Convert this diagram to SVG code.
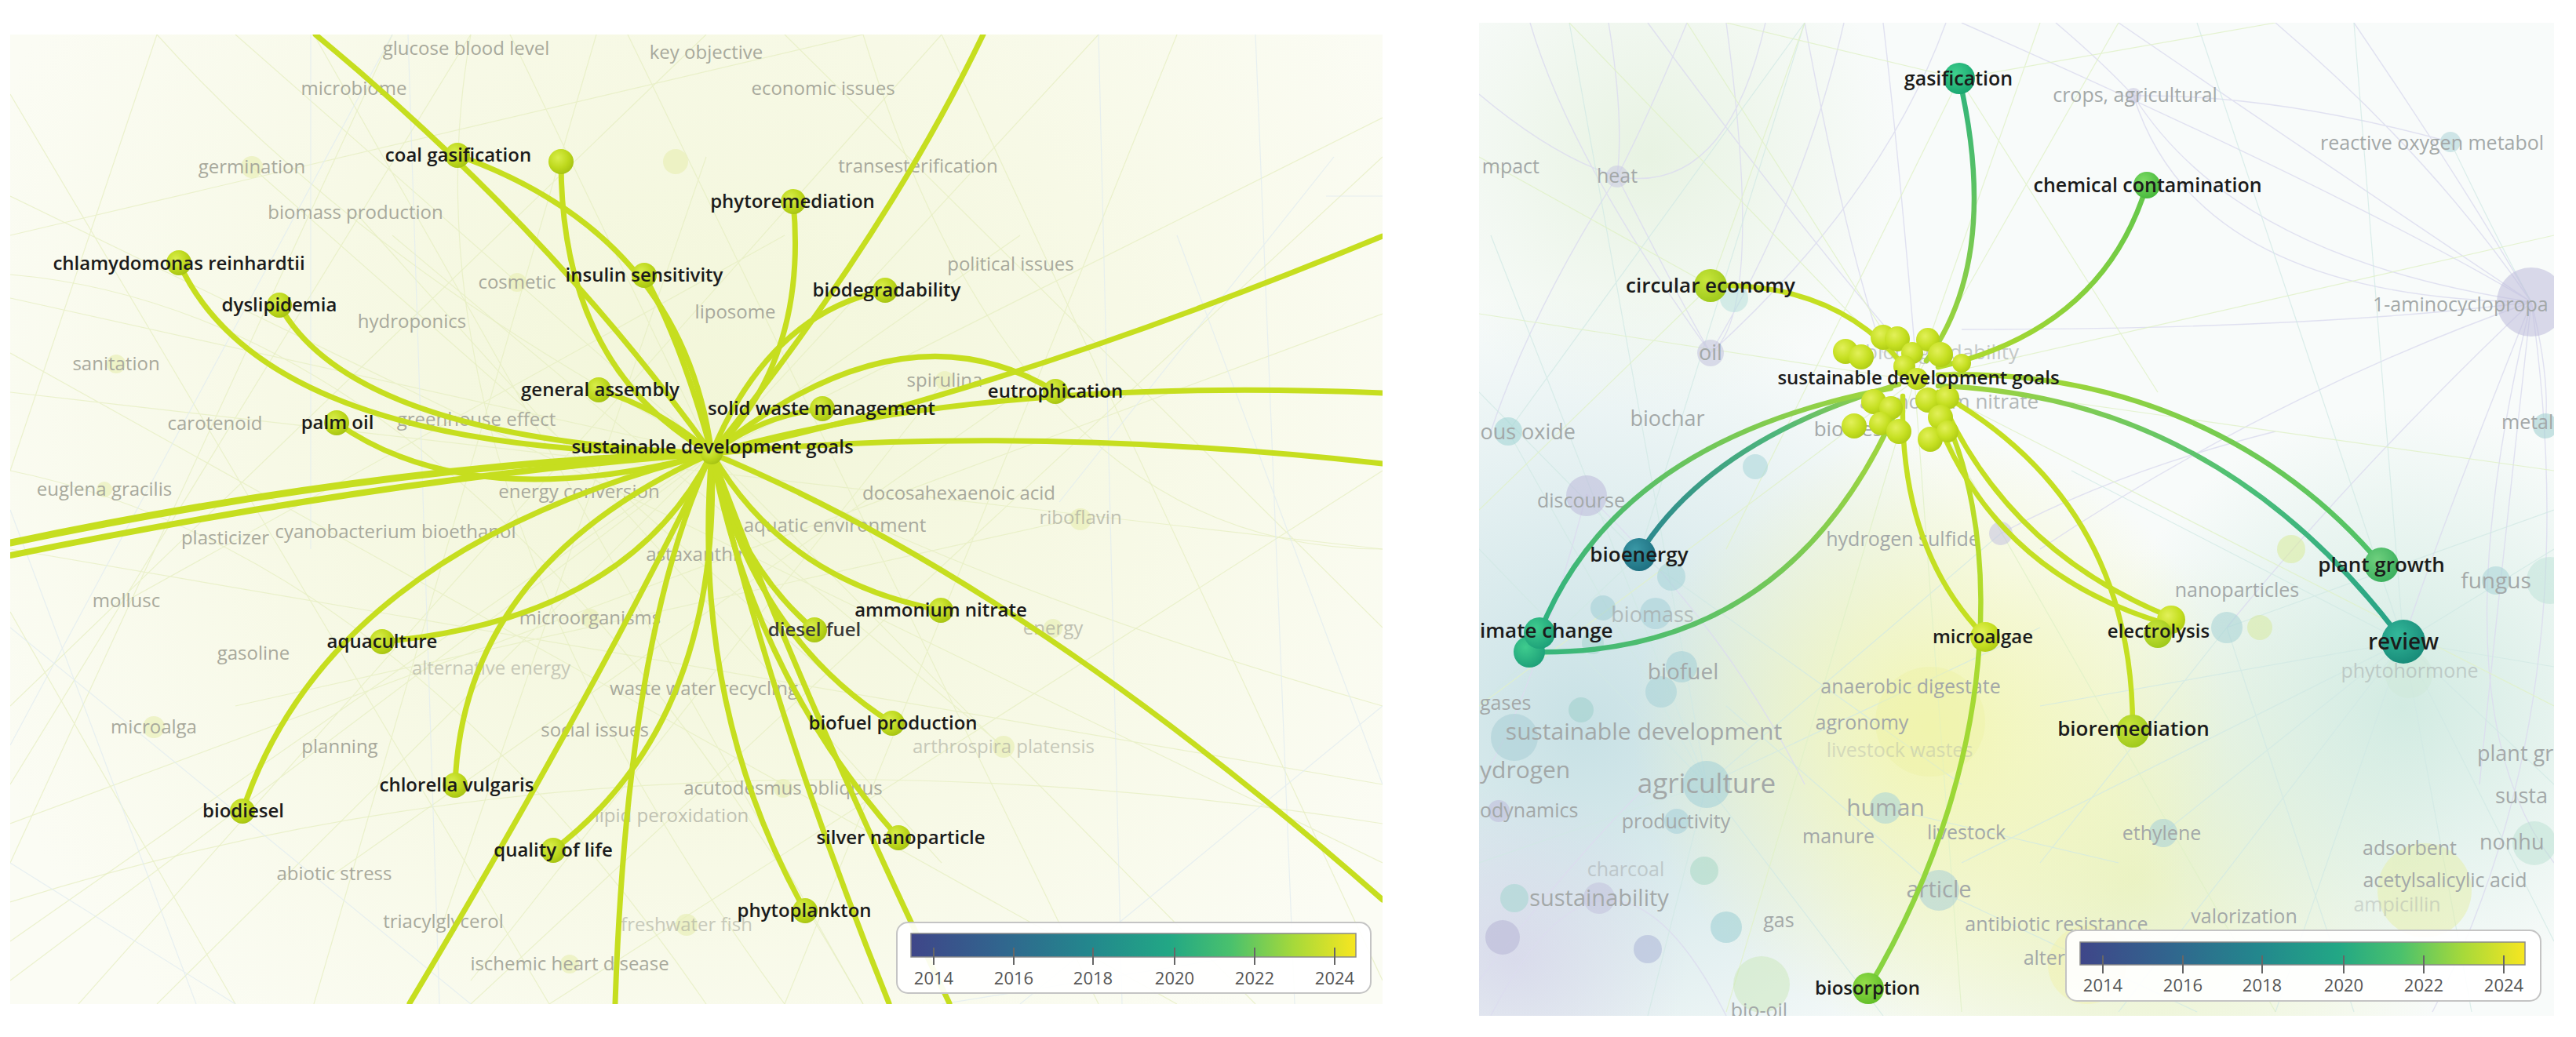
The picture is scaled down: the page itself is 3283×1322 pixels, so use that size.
<svg xmlns="http://www.w3.org/2000/svg" width="3283" height="1322" viewBox="0 0 3283 1322">
<defs>
<style>
.lbl{font-family:"Open Sans","DejaVu Sans",sans-serif;font-size:24px;font-weight:600;fill:#1b1b1b;text-anchor:middle}
.fnt{font-family:"Open Sans","DejaVu Sans",sans-serif;font-size:24px;fill:#a8a99c;text-anchor:middle}
.fntR{font-family:"Open Sans","DejaVu Sans",sans-serif;font-size:25px;fill:#a3a8a8;text-anchor:middle}
.edL{fill:none;stroke:#c6de1f;stroke-width:7;stroke-linecap:round}
.edY{fill:none;stroke:#c4df22;stroke-width:6.5;stroke-linecap:round}
.bgL{fill:none;stroke:#e6eec0;stroke-width:1.2;opacity:.75}
.bgB{fill:none;stroke:#e0ebf0;stroke-width:1.2;opacity:.75}
.bgV{fill:none;stroke:#dcdcee;stroke-width:1.4;opacity:.85}
.bgT{fill:none;stroke:#d0e8e4;stroke-width:1.2;opacity:.75}
.bgG{fill:none;stroke:#e0f1c8;stroke-width:1.2;opacity:.85}
.tick{stroke:#666;stroke-width:2}
.leg{font-family:"Open Sans","DejaVu Sans",sans-serif;font-size:22px;fill:#555;text-anchor:middle}
</style>
<clipPath id="clipL"><rect x="13" y="44" width="1749" height="1236"/></clipPath>
<clipPath id="clipR"><rect x="1885" y="29" width="1370" height="1266"/></clipPath>
<radialGradient id="hazeL" cx="900" cy="560" r="1000" gradientUnits="userSpaceOnUse">
<stop offset="0" stop-color="#f2f6d8"/><stop offset=".55" stop-color="#f7f9e6"/><stop offset="1" stop-color="#fbfcf4"/>
</radialGradient>
<radialGradient id="hTeal" cx="2020" cy="930" r="560" gradientUnits="userSpaceOnUse">
<stop offset="0" stop-color="#c8e1e5" stop-opacity="1"/><stop offset="1" stop-color="#c8e1e5" stop-opacity="0"/></radialGradient>
<radialGradient id="hYel" cx="2460" cy="930" r="380" gradientUnits="userSpaceOnUse">
<stop offset="0" stop-color="#f3f6b4" stop-opacity="1"/><stop offset="1" stop-color="#f3f6b4" stop-opacity="0"/></radialGradient>
<radialGradient id="hYG" cx="2720" cy="1120" r="420" gradientUnits="userSpaceOnUse">
<stop offset="0" stop-color="#e9f2c6" stop-opacity="1"/><stop offset="1" stop-color="#e9f2c6" stop-opacity="0"/></radialGradient>
<radialGradient id="hTG" cx="3060" cy="900" r="380" gradientUnits="userSpaceOnUse">
<stop offset="0" stop-color="#d2ebe2" stop-opacity="1"/><stop offset="1" stop-color="#d2ebe2" stop-opacity="0"/></radialGradient>
<radialGradient id="hLav" cx="1930" cy="1220" r="220" gradientUnits="userSpaceOnUse">
<stop offset="0" stop-color="#d7d6ea" stop-opacity=".8"/><stop offset="1" stop-color="#d7d6ea" stop-opacity="0"/></radialGradient>
<radialGradient id="hGrn" cx="2100" cy="200" r="320" gradientUnits="userSpaceOnUse">
<stop offset="0" stop-color="#e6f2e0" stop-opacity=".9"/><stop offset="1" stop-color="#e6f2e0" stop-opacity="0"/></radialGradient>
<radialGradient id="nY" cx=".38" cy=".35" r=".7"><stop offset="0" stop-color="#d9ee4c"/><stop offset=".6" stop-color="#bdd81c"/><stop offset="1" stop-color="#a4c112"/></radialGradient>
<radialGradient id="nY2" cx=".38" cy=".35" r=".7"><stop offset="0" stop-color="#e2f05a"/><stop offset=".6" stop-color="#c6e022"/><stop offset="1" stop-color="#aecb14"/></radialGradient>
<radialGradient id="nGas" cx=".38" cy=".35" r=".7"><stop offset="0" stop-color="#3fd08e"/><stop offset="1" stop-color="#17a46e"/></radialGradient>
<radialGradient id="nChem" cx=".38" cy=".35" r=".7"><stop offset="0" stop-color="#7fdc66"/><stop offset="1" stop-color="#45b73a"/></radialGradient>
<radialGradient id="nCirc" cx=".38" cy=".35" r=".7"><stop offset="0" stop-color="#c8e63c"/><stop offset="1" stop-color="#9ec81a"/></radialGradient>
<radialGradient id="nBio" cx=".38" cy=".35" r=".7"><stop offset="0" stop-color="#3a98a6"/><stop offset="1" stop-color="#1d6f80"/></radialGradient>
<radialGradient id="nCli" cx=".38" cy=".35" r=".7"><stop offset="0" stop-color="#3fcc8e"/><stop offset="1" stop-color="#1c9f78"/></radialGradient>
<radialGradient id="nPG" cx=".38" cy=".35" r=".7"><stop offset="0" stop-color="#6fd07e"/><stop offset="1" stop-color="#3aae5c"/></radialGradient>
<radialGradient id="nRev" cx=".38" cy=".35" r=".7"><stop offset="0" stop-color="#33b89a"/><stop offset="1" stop-color="#178a78"/></radialGradient>
<radialGradient id="nSorp" cx=".38" cy=".35" r=".7"><stop offset="0" stop-color="#94dd4a"/><stop offset="1" stop-color="#5fbd26"/></radialGradient>
<linearGradient id="gGas" x1="2497" y1="100" x2="2455" y2="460" gradientUnits="userSpaceOnUse"><stop offset="0" stop-color="#2db47d"/><stop offset="1" stop-color="#a9d835"/></linearGradient>
<linearGradient id="gChem" x1="2736" y1="236" x2="2470" y2="468" gradientUnits="userSpaceOnUse"><stop offset="0" stop-color="#62c74c"/><stop offset="1" stop-color="#b6dc2b"/></linearGradient>
<linearGradient id="gBio" x1="2089" y1="707" x2="2420" y2="490" gradientUnits="userSpaceOnUse"><stop offset="0" stop-color="#2a8690"/><stop offset=".6" stop-color="#4fb77a"/><stop offset="1" stop-color="#a8d83a"/></linearGradient>
<linearGradient id="gCli" x1="1962" y1="807" x2="2410" y2="495" gradientUnits="userSpaceOnUse"><stop offset="0" stop-color="#2db181"/><stop offset="1" stop-color="#a4d73c"/></linearGradient>
<linearGradient id="gCli2" x1="1949" y1="831" x2="2420" y2="515" gradientUnits="userSpaceOnUse"><stop offset="0" stop-color="#34b57e"/><stop offset="1" stop-color="#a8d83a"/></linearGradient>
<linearGradient id="gPG" x1="2470" y1="478" x2="3035" y2="720" gradientUnits="userSpaceOnUse"><stop offset="0" stop-color="#b5dc2b"/><stop offset="1" stop-color="#4cc16a"/></linearGradient>
<linearGradient id="gRev" x1="2470" y1="492" x2="3063" y2="818" gradientUnits="userSpaceOnUse"><stop offset="0" stop-color="#a6d63a"/><stop offset=".6" stop-color="#4cbf78"/><stop offset="1" stop-color="#23a189"/></linearGradient>
<linearGradient id="gSorp" x1="2470" y1="515" x2="2381" y2="1260" gradientUnits="userSpaceOnUse"><stop offset="0" stop-color="#c4df22"/><stop offset="1" stop-color="#86d343"/></linearGradient>
<linearGradient id="viridis" x1="0" y1="0" x2="1" y2="0">
<stop offset="0" stop-color="#3f4689"/><stop offset=".2" stop-color="#31658e"/><stop offset=".4" stop-color="#23878d"/><stop offset=".58" stop-color="#22a785"/><stop offset=".72" stop-color="#4ac16d"/><stop offset=".86" stop-color="#a6d93a"/><stop offset="1" stop-color="#f7e620"/>
</linearGradient>
</defs>

<rect width="3283" height="1322" fill="#ffffff"/>

<!-- ================= LEFT PANEL ================= -->
<g id="leftPanel" clip-path="url(#clipL)">
<rect x="13" y="44" width="1749" height="1236" fill="url(#hazeL)"/>
<g id="leftBackground">
<path class="bgL" d="M13,120 L700,1280 M13,300 L1100,44 M13,900 L900,44 M200,44 L13,600 M13,1000 L600,44 M300,1280 L13,780 M13,1200 L1300,300 M100,1280 L1200,44 M400,1280 L760,44 M13,500 L1762,700 M13,450 L1500,1280 M600,1280 L1762,200 M13,700 L1762,1000 M800,44 L1400,1280 M1000,44 L1762,800 M1500,44 L1000,1280 M1200,44 L1762,1250 M13,1050 L1762,400 M400,44 L1100,1280 M13,250 L1762,1100 M1762,600 L700,1280 M500,44 L13,1100 M907,578 L300,44 M907,578 L13,380 M907,578 L200,1280 M907,578 L1600,1280 M907,578 L1762,150 M907,578 L650,44 M907,578 L13,1250 M907,578 L1400,44 M321,213 L1100,900 M453,271 L1200,1100 M161,766 L1000,300 M426,1114 L1300,500 M565,1175 L900,200 M1204,485 L600,1250 M1279,952 L500,300 M1377,660 L300,900"/>
<path class="bgL" d="M13,600 Q500,700 900,1280 M13,350 Q600,400 1100,1280 M200,44 Q700,600 1762,900 M13,1150 Q800,900 1762,1050 M600,44 Q500,600 1000,1280 M1100,44 Q1300,700 1762,700"/>
<path class="bgB" d="M396,44 L396,700 M520,44 L560,1280 M13,800 L600,1280 M13,950 L500,44 M1400,44 L1430,1280 M1700,200 L1350,640 M1600,44 L1650,1280 M1690,250 L1762,250 M1500,300 L1762,1000 M1300,1280 L1762,900 M13,1100 L300,1280 M13,650 L250,1280 M1200,1280 L1700,1200"/>
<g fill="#e9f0b8" opacity=".7">
<circle cx="321" cy="213" r="14"/><circle cx="861" cy="206" r="16"/><circle cx="1377" cy="662" r="14"/><circle cx="1342" cy="801" r="12"/><circle cx="148" cy="464" r="12"/><circle cx="196" cy="927" r="14"/><circle cx="1279" cy="952" r="14"/><circle cx="752" cy="788" r="12"/><circle cx="133" cy="624" r="10"/><circle cx="726" cy="1229" r="12"/><circle cx="875" cy="1179" r="14"/><circle cx="998" cy="1005" r="12"/><circle cx="1204" cy="485" r="12"/><circle cx="659" cy="360" r="12"/>
</g>
</g>
<g id="leftFaintLabels">
<text class="fnt" x="594" y="70">glucose blood level</text>
<text class="fnt" x="900" y="75">key objective</text>
<text class="fnt" x="451" y="121">microbiome</text>
<text class="fnt" x="1049" y="121">economic issues</text>
<text class="fnt" x="321" y="221">germination</text>
<text class="fnt" x="453" y="279">biomass production</text>
<text class="fnt" x="1170" y="220">transesterification</text>
<text class="fnt" x="659" y="368">cosmetic</text>
<text class="fnt" x="525" y="418">hydroponics</text>
<text class="fnt" x="937" y="406">liposome</text>
<text class="fnt" x="1288" y="345">political issues</text>
<text class="fnt" x="148" y="472">sanitation</text>
<text class="fnt" x="274" y="548">carotenoid</text>
<text class="fnt" x="607" y="543">greenhouse effect</text>
<text class="fnt" x="1204" y="493">spirulina</text>
<text class="fnt" x="133" y="632">euglena gracilis</text>
<text class="fnt" x="738" y="635">energy conversion</text>
<text class="fnt" x="1222" y="637">docosahexaenoic acid</text>
<text class="fnt" x="1377" y="668" opacity=".7">riboflavin</text>
<text class="fnt" x="1064" y="678">aquatic environment</text>
<text class="fnt" x="287" y="694">plasticizer</text>
<text class="fnt" x="504" y="686">cyanobacterium bioethanol</text>
<text class="fnt" x="889" y="715">astaxanthin</text>
<text class="fnt" x="161" y="774">mollusc</text>
<text class="fnt" x="752" y="796">microorganisms</text>
<text class="fnt" x="323" y="841">gasoline</text>
<text class="fnt" x="626" y="860" opacity=".6">alternative energy</text>
<text class="fnt" x="897" y="886">waste water recycling</text>
<text class="fnt" x="196" y="935">microalga</text>
<text class="fnt" x="433" y="960">planning</text>
<text class="fnt" x="758" y="939">social issues</text>
<text class="fnt" x="998" y="1013">acutodesmus obliquus</text>
<text class="fnt" x="856" y="1048" opacity=".7">lipid peroxidation</text>
<text class="fnt" x="426" y="1122">abiotic stress</text>
<text class="fnt" x="565" y="1183">triacylglycerol</text>
<text class="fnt" x="875" y="1187" opacity=".6">freshwater fish</text>
<text class="fnt" x="726" y="1237">ischemic heart disease</text>
<text class="fnt" x="1342" y="809" opacity=".7">energy</text>
<text class="fnt" x="1279" y="960" opacity=".6">arthrospira platensis</text>
</g>
<g id="leftConnectors">
<path class="edL" d="M402,44 Q700,290 907,578"/>
<path class="edL" d="M583,198 Q870,300 907,578"/>
<path class="edL" d="M715,206 Q715,470 907,578"/>
<path class="edL" d="M821,351 Q870,440 907,578"/>
<path class="edL" d="M228,335 Q340,580 907,578"/>
<path class="edL" d="M356,389 Q450,560 907,578"/>
<path class="edL" d="M429,539 Q600,660 907,578"/>
<path class="edL" d="M763,497 Q840,520 907,578"/>
<path class="edL" style="stroke-width:9" d="M907,578 Q500,590 13,692"/>
<path class="edL" style="stroke-width:8" d="M907,578 Q520,605 13,708"/>
<path class="edL" d="M487,818 Q800,790 907,578"/>
<path class="edL" d="M309,1034 Q420,700 907,578"/>
<path class="edL" d="M580,1001 Q590,720 907,578"/>
<path class="edL" d="M705,1084 Q920,920 907,578"/>
<path class="edL" d="M907,578 Q760,880 522,1279"/>
<path class="edL" d="M907,578 Q800,800 784,1279"/>
<path class="edL" d="M1026,1161 Q880,900 907,578"/>
<path class="edL" d="M1038,803 Q940,720 907,578"/>
<path class="edL" d="M1199,778 Q1000,740 907,578"/>
<path class="edL" d="M1137,922 Q960,810 907,578"/>
<path class="edL" d="M1145,1068 Q960,860 907,578"/>
<path class="edL" d="M907,578 Q980,900 1133,1279"/>
<path class="edL" d="M907,578 Q1010,860 1210,1279"/>
<path class="edL" d="M907,578 Q1300,740 1762,1147"/>
<path class="edL" d="M907,578 Q1300,540 1762,591"/>
<path class="edL" d="M907,578 Q1250,480 1762,501"/>
<path class="edL" d="M907,578 Q1150,380 1345,499"/>
<path class="edL" d="M1048,521 Q970,530 907,578"/>
<path class="edL" d="M907,578 Q1280,500 1762,301"/>
<path class="edL" d="M1128,370 Q980,400 907,578"/>
<path class="edL" d="M1011,257 Q1030,460 907,578"/>
<path class="edL" d="M907,578 Q1130,300 1253,44"/>
</g>
<g id="leftNodes">
<g id="n-coal-gasification"><circle cx="583" cy="198" r="16" fill="url(#nY)"/><text class="lbl" x="584" y="206">coal gasification</text></g>
<g id="n-plasma-node"><circle cx="715" cy="206" r="16" fill="url(#nY)"/></g>
<g id="n-chlamydomonas"><circle cx="228" cy="335" r="16" fill="url(#nY)"/><text class="lbl" x="228" y="344">chlamydomonas reinhardtii</text></g>
<g id="n-dyslipidemia"><circle cx="356" cy="389" r="16" fill="url(#nY)"/><text class="lbl" x="356" y="397">dyslipidemia</text></g>
<g id="n-insulin"><circle cx="821" cy="351" r="16" fill="url(#nY)"/><text class="lbl" x="821" y="359">insulin sensitivity</text></g>
<g id="n-general-assembly"><circle cx="763" cy="497" r="16" fill="url(#nY)"/><text class="lbl" x="765" y="505">general assembly</text></g>
<g id="n-palm-oil"><circle cx="429" cy="539" r="16" fill="url(#nY)"/><text class="lbl" x="430" y="547">palm oil</text></g>
<g id="n-phytoremediation"><circle cx="1011" cy="257" r="16" fill="url(#nY)"/><text class="lbl" x="1010" y="265">phytoremediation</text></g>
<g id="n-biodegradability"><circle cx="1128" cy="370" r="16" fill="url(#nY)"/><text class="lbl" x="1130" y="378">biodegradability</text></g>
<g id="n-solid-waste"><circle cx="1048" cy="521" r="16" fill="url(#nY)"/><text class="lbl" x="1047" y="529">solid waste management</text></g>
<g id="n-eutrophication"><circle cx="1345" cy="499" r="16" fill="url(#nY)"/><text class="lbl" x="1345" y="507">eutrophication</text></g>
<g id="n-sdg-left"><circle cx="907" cy="578" r="14" fill="url(#nY)"/><text class="lbl" x="908" y="578">sustainable development goals</text></g>
<g id="n-aquaculture"><circle cx="487" cy="818" r="16" fill="url(#nY)"/><text class="lbl" x="487" y="826">aquaculture</text></g>
<g id="n-biodiesel"><circle cx="309" cy="1034" r="16" fill="url(#nY)"/><text class="lbl" x="310" y="1042">biodiesel</text></g>
<g id="n-chlorella"><circle cx="580" cy="1001" r="16" fill="url(#nY)"/><text class="lbl" x="582" y="1009">chlorella vulgaris</text></g>
<g id="n-quality"><circle cx="705" cy="1084" r="16" fill="url(#nY)"/><text class="lbl" x="705" y="1092">quality of life</text></g>
<g id="n-ammonium"><circle cx="1199" cy="778" r="16" fill="url(#nY)"/><text class="lbl" x="1199" y="786">ammonium nitrate</text></g>
<g id="n-diesel-fuel"><circle cx="1038" cy="803" r="16" fill="url(#nY)"/><text class="lbl" x="1038" y="811" style="fill:#3a3a3a">diesel fuel</text></g>
<g id="n-biofuel-production"><circle cx="1137" cy="922" r="16" fill="url(#nY)"/><text class="lbl" x="1138" y="930">biofuel production</text></g>
<g id="n-silver"><circle cx="1145" cy="1068" r="16" fill="url(#nY)"/><text class="lbl" x="1148" y="1076">silver nanoparticle</text></g>
<g id="n-phytoplankton"><circle cx="1026" cy="1161" r="16" fill="url(#nY)"/><text class="lbl" x="1025" y="1169">phytoplankton</text></g>
</g>
<g id="leftLegend">
<rect x="1143" y="1176" width="604" height="90" rx="14" fill="#ffffff" fill-opacity=".92" stroke="#c4c4c4" stroke-width="2"/>
<rect x="1161" y="1190" width="567" height="30" fill="url(#viridis)" stroke="#8a8a8a" stroke-width="1.5"/>
<path class="tick" d="M1190,1208 V1230 M1292,1208 V1230 M1393,1208 V1230 M1497,1208 V1230 M1599,1208 V1230 M1701,1208 V1230"/>
<text class="leg" x="1190" y="1255">2014</text><text class="leg" x="1292" y="1255">2016</text><text class="leg" x="1393" y="1255">2018</text><text class="leg" x="1497" y="1255">2020</text><text class="leg" x="1599" y="1255">2022</text><text class="leg" x="1701" y="1255">2024</text>
</g>
</g>

<!-- ================= RIGHT PANEL ================= -->
<g id="rightPanel" clip-path="url(#clipR)">
<rect x="1885" y="29" width="1370" height="1266" fill="#f8fbfa"/>
<rect x="1885" y="29" width="1370" height="1266" fill="url(#hTeal)"/>
<rect x="1885" y="29" width="1370" height="1266" fill="url(#hYG)"/>
<rect x="1885" y="29" width="1370" height="1266" fill="url(#hTG)"/>
<rect x="1885" y="29" width="1370" height="1266" fill="url(#hYel)"/>
<rect x="1885" y="29" width="1370" height="1266" fill="url(#hLav)"/>
<rect x="1885" y="29" width="1370" height="1266" fill="url(#hGrn)"/>
<g id="rightBackground">
<path class="bgV" d="M2050,29 Q2070,150 2061,225 M2150,29 Q2100,150 2061,225 M1885,120 Q1980,200 2061,225 M2061,225 Q2150,400 2180,450 M2061,225 Q1950,400 1900,550 M2200,29 Q2250,400 2180,450 M2300,29 Q2350,300 2400,450 M2350,29 Q2300,250 2180,450 M2400,29 Q2420,200 2440,440 M2620,29 Q2680,80 2719,122 M2719,122 Q2850,330 3226,385 M2700,29 Q2950,200 3226,385 M2900,29 Q3100,200 3226,385 M3000,29 Q3150,250 3226,385 M2719,122 Q2900,120 3123,181 M3226,385 Q3000,600 2838,800 M3226,385 Q3100,700 3063,818 M3226,385 Q2900,500 2600,700 M3226,385 Q3250,480 3244,543 M3226,385 Q2950,420 2500,420 M3226,385 Q3180,800 3160,1000 M1885,1250 Q2000,1100 2100,1000 M2550,680 Q2700,600 2900,550 M2250,29 Q2200,250 2061,225 M1950,29 Q2000,200 2180,450 M2100,29 Q2300,300 2440,460 M2480,29 Q2400,250 2180,450 M3226,385 Q2800,380 2719,122 M3226,385 Q3000,250 2500,29 M3226,385 Q3100,900 3255,1100 M3226,385 Q3300,900 3100,1290 M2022,630 Q1950,900 1885,1000 M2022,630 Q2200,800 2300,1000 M1900,1295 Q2050,1000 2200,1295"/>
<path class="bgT" d="M3123,181 Q3180,300 3226,385 M3063,818 L2640,600 M3063,818 L2900,1290 M3063,818 L3255,700 M3063,818 L3255,1000 M3063,818 L2600,900 M3063,818 L3000,29 M3063,818 L2800,29 M3063,818 L3255,1200 M3063,818 L2500,1100 M3063,818 L3150,1290 M3063,818 L2700,1290 M3063,818 L3255,850 M2175,1000 L1885,700 M2175,1000 L1885,1100 M2175,1000 L2100,1295 M2175,1000 L2400,1295 M2175,1000 L2600,800 M2175,1000 L2000,29 M2175,1000 L1900,300 M2175,1000 L2550,680 M2089,707 L1885,500 M2089,707 L2300,29 M2089,707 L2500,1000 M2089,707 L1885,900 M2471,1135 L2800,1290 M2471,1135 L2200,900 M2403,1030 L2700,1100 M2838,800 L3255,650 M2838,800 L2600,1100 M2838,800 L3000,1290 M2757,1062 L3063,818 M1922,550 L2175,1000 M1922,550 L2300,29"/>
<path class="bgG" d="M2440,485 L1885,400 M2440,485 L2000,29 M2440,485 L2700,29 M2440,485 L3255,600 M2440,485 L2900,1290 M2440,485 L2200,1290 M2440,485 L1885,900 M2440,485 L3255,300 M2440,485 L2600,29 M2440,485 L2150,29 M2440,485 L3255,900 M2440,485 L2500,1290 M2180,364 L1885,200 M2180,364 L2300,29 M2180,364 L1885,650 M2497,100 L2200,29 M2497,100 L2900,29 M2497,100 L2750,500 M2497,100 L2200,700"/>
</g>
<g id="rightFaintNodes">
<g opacity=".55">
<circle cx="2061" cy="225" r="14" fill="#c9c8e2"/>
<circle cx="2180" cy="450" r="17" fill="#c4c3df"/>
<circle cx="2210" cy="380" r="18" fill="#b9e1de"/>
<circle cx="1922" cy="550" r="18" fill="#9fd4d4"/>
<circle cx="2022" cy="632" r="26" fill="#bdbadb"/>
<circle cx="2237" cy="595" r="16" fill="#a9d6da"/>
<circle cx="2719" cy="122" r="10" fill="#c8c7e0"/>
<circle cx="3123" cy="181" r="13" fill="#acd3d7"/>
<circle cx="3226" cy="385" r="44" fill="#bdbbdb"/>
<circle cx="3244" cy="543" r="16" fill="#9fcfcf"/>
<circle cx="2550" cy="680" r="15" fill="#c4c3e0"/>
<circle cx="2838" cy="800" r="20" fill="#a7d3d6"/>
<circle cx="2880" cy="800" r="16" fill="#d8eaa2"/>
<circle cx="2130" cy="735" r="18" fill="#a5d3d8"/>
<circle cx="2110" cy="782" r="20" fill="#a5d0d8"/>
<circle cx="2143" cy="850" r="20" fill="#a2cfd7"/>
<circle cx="2117" cy="882" r="20" fill="#a7d2d8"/>
<circle cx="2043" cy="775" r="16" fill="#a2cfd6"/>
<circle cx="2030" cy="820" r="14" fill="#a8d7d0"/>
<circle cx="2175" cy="1000" r="30" fill="#a3d0d8"/>
<circle cx="2137" cy="1047" r="16" fill="#a6d0da"/>
<circle cx="2403" cy="1030" r="20" fill="#a8d3d8"/>
<circle cx="2471" cy="1135" r="26" fill="#abd0d8"/>
<circle cx="3181" cy="740" r="18" fill="#a9d4d8"/>
<circle cx="2757" cy="1062" r="18" fill="#a6d0d8"/>
<circle cx="2200" cy="1182" r="20" fill="#9ccfd4"/>
<circle cx="2100" cy="1210" r="18" fill="#adb7d8"/>
<circle cx="1930" cy="940" r="30" fill="#a9cfd6"/>
<circle cx="1930" cy="1145" r="18" fill="#a4d6d0"/>
<circle cx="2038" cy="1145" r="20" fill="#c3c2dd"/>
<circle cx="1915" cy="1195" r="22" fill="#b7b6d6"/>
<circle cx="1910" cy="1034" r="14" fill="#c0bcdc"/>
<circle cx="2015" cy="905" r="16" fill="#9fd0cc"/>
<circle cx="2172" cy="1110" r="18" fill="#a9d9c6"/>
<circle cx="2920" cy="700" r="18" fill="#d8eb9b"/>
</g>
<g opacity=".45">
<circle cx="2460" cy="920" r="70" fill="#eef2a6"/>
<circle cx="3090" cy="1135" r="60" fill="#e6efa0"/>
<circle cx="2245" cy="1255" r="36" fill="#c7e7b4"/>
<circle cx="2660" cy="1230" r="50" fill="#f2f1a8"/>
<circle cx="3070" cy="860" r="30" fill="#cfe9d8"/>
<circle cx="3250" cy="740" r="30" fill="#b8e0d4"/>
<circle cx="3230" cy="1075" r="28" fill="#b7dfd0"/>
</g>
</g>
<g id="rightFaintLabels">
<text class="fntR" x="1962" y="221" style="text-anchor:end">mpact</text>
<text class="fntR" x="2061" y="233">heat</text>
<text class="fntR" x="2721" y="130">crops, agricultural</text>
<text class="fntR" x="2957" y="191" style="text-anchor:start">reactive oxygen metabol</text>
<text class="fntR" x="3024" y="397" style="text-anchor:start">1-aminocyclopropa</text>
<text class="fntR" x="3188" y="547" style="text-anchor:start">metal</text>
<text class="fntR" x="2180" y="459" style="font-size:27px">oil</text>
<text class="fntR" x="2008" y="560" style="text-anchor:end;font-size:27px">ous oxide</text>
<text class="fntR" x="2125" y="543" style="font-size:27px">biochar</text>
<text class="fntR" x="2015" y="647">discourse</text>
<text class="fntR" x="2475" y="458" style="font-size:26px;opacity:.6">biodegradability</text>
<text class="fntR" x="2484" y="521" style="font-size:26px;opacity:.8">ammonium nitrate</text>
<text class="fntR" x="2366" y="556" style="font-size:26px">biodiesel</text>
<text class="fntR" x="2425" y="696">hydrogen sulfide</text>
<text class="fntR" x="2106" y="793" style="font-size:27px;opacity:.7">biomass</text>
<text class="fntR" x="2145" y="866" style="font-size:28px">biofuel</text>
<text class="fntR" x="1886" y="905" style="text-anchor:start">gases</text>
<text class="fntR" x="2095" y="943" style="font-size:30px">sustainable development</text>
<text class="fntR" x="2435" y="884">anaerobic digestate</text>
<text class="fntR" x="2373" y="930">agronomy</text>
<text class="fntR" x="2421" y="965" style="opacity:.35">livestock wastes</text>
<text class="fntR" x="1886" y="992" style="text-anchor:start;font-size:30px">ydrogen</text>
<text class="fntR" x="2175" y="1011" style="font-size:35px">agriculture</text>
<text class="fntR" x="1886" y="1042" style="text-anchor:start">odynamics</text>
<text class="fntR" x="2136" y="1056">productivity</text>
<text class="fntR" x="2403" y="1040" style="font-size:30px">human</text>
<text class="fntR" x="2343" y="1075">manure</text>
<text class="fntR" x="2506" y="1070">livestock</text>
<text class="fntR" x="2072" y="1117" style="opacity:.5">charcoal</text>
<text class="fntR" x="2038" y="1155" style="font-size:29px">sustainability</text>
<text class="fntR" x="2471" y="1144" style="font-size:29px">article</text>
<text class="fntR" x="2267" y="1182">gas</text>
<text class="fntR" x="2621" y="1187">antibiotic resistance</text>
<text class="fntR" x="2632" y="1230" style="text-anchor:end">alter</text>
<text class="fntR" x="2242" y="1297">bio-oil</text>
<text class="fntR" x="2851" y="761">nanoparticles</text>
<text class="fntR" x="3181" y="750" style="font-size:28px">fungus</text>
<text class="fntR" x="3071" y="864" style="opacity:.5">phytohormone</text>
<text class="fntR" x="3157" y="970" style="text-anchor:start;font-size:27px">plant gr</text>
<text class="fntR" x="3180" y="1024" style="text-anchor:start;font-size:27px">susta</text>
<text class="fntR" x="3160" y="1083" style="text-anchor:start;font-size:27px">nonhu</text>
<text class="fntR" x="2755" y="1071">ethylene</text>
<text class="fntR" x="3071" y="1090">adsorbent</text>
<text class="fntR" x="3116" y="1131">acetylsalicylic acid</text>
<text class="fntR" x="3055" y="1162" style="opacity:.4">ampicillin</text>
<text class="fntR" x="2860" y="1177">valorization</text>
</g>
<g id="rightConnectors">
<path fill="none" stroke="url(#gGas)" stroke-width="6.5" stroke-linecap="round" d="M2497,100 Q2550,330 2455,460"/>
<path fill="none" stroke="url(#gChem)" stroke-width="6.5" stroke-linecap="round" d="M2736,236 Q2680,420 2470,468"/>
<path class="edY" d="M2180,364 Q2340,360 2425,465"/>
<path fill="none" stroke="url(#gBio)" stroke-width="6.5" stroke-linecap="round" d="M2089,707 Q2180,560 2420,490"/>
<path fill="none" stroke="url(#gCli)" stroke-width="6.5" stroke-linecap="round" d="M1962,807 Q2060,560 2410,495"/>
<path fill="none" stroke="url(#gCli2)" stroke-width="6.5" stroke-linecap="round" d="M1949,831 Q2280,840 2420,515"/>
<path class="edY" d="M2425,505 Q2420,700 2530,812"/>
<path fill="none" stroke="url(#gSorp)" stroke-width="6.5" stroke-linecap="round" d="M2470,515 C2545,650 2565,950 2381,1260"/>
<path class="edY" d="M2465,525 Q2540,730 2760,795"/>
<path class="edY" d="M2478,518 Q2565,705 2765,786"/>
<path class="edY" d="M2470,500 Q2720,640 2718,932"/>
<path fill="none" stroke="url(#gPG)" stroke-width="6.5" stroke-linecap="round" d="M2470,478 C2700,470 2900,560 3035,720"/>
<path fill="none" stroke="url(#gRev)" stroke-width="6.5" stroke-linecap="round" d="M2470,492 C2700,500 2900,600 3063,818"/>
</g>
<g id="rightNodes">
<g id="r-gasification"><circle cx="2497" cy="100" r="20" fill="url(#nGas)"/><text class="lbl" x="2496" y="109" style="font-size:25px">gasification</text></g>
<g id="r-chemical-contamination"><circle cx="2736" cy="236" r="17" fill="url(#nChem)"/><text class="lbl" x="2737" y="245" style="font-size:25px">chemical contamination</text></g>
<g id="r-circular-economy"><circle cx="2180" cy="364" r="21" fill="url(#nCirc)"/><text class="lbl" x="2180" y="373" style="font-size:26px">circular economy</text></g>
<g id="r-sdg">
<g fill="url(#nY2)">
<circle cx="2352" cy="448" r="16"/><circle cx="2372" cy="455" r="16"/><circle cx="2400" cy="430" r="16"/><circle cx="2418" cy="432" r="16"/><circle cx="2457" cy="433" r="15"/><circle cx="2473" cy="452" r="16"/><circle cx="2437" cy="450" r="14"/><circle cx="2427" cy="467" r="14"/><circle cx="2443" cy="483" r="14"/><circle cx="2500" cy="463" r="12"/><circle cx="2388" cy="512" r="16"/><circle cx="2410" cy="520" r="15"/><circle cx="2457" cy="510" r="16"/><circle cx="2482" cy="507" r="15"/><circle cx="2473" cy="532" r="16"/><circle cx="2363" cy="543" r="16"/><circle cx="2397" cy="540" r="15"/><circle cx="2420" cy="550" r="16"/><circle cx="2460" cy="560" r="16"/><circle cx="2482" cy="550" r="14"/>
</g>
<text class="lbl" x="2445" y="490">sustainable development goals</text>
</g>
<g id="r-bioenergy"><circle cx="2089" cy="707" r="21" fill="url(#nBio)"/><text class="lbl" x="2089" y="716" style="font-size:26px">bioenergy</text></g>
<g id="r-climate-change"><circle cx="1949" cy="831" r="20" fill="url(#nCli)"/><circle cx="1962" cy="807" r="20" fill="url(#nCli)"/><text class="lbl" x="1886" y="813" style="font-size:26px;text-anchor:start">imate change</text></g>
<g id="r-microalgae"><circle cx="2530" cy="812" r="19" fill="url(#nY2)"/><text class="lbl" x="2527" y="820">microalgae</text></g>
<g id="r-electrolysis"><circle cx="2767" cy="790" r="18" fill="url(#nY2)"/><circle cx="2750" cy="808" r="18" fill="url(#nCirc)"/><text class="lbl" x="2751" y="813">electrolysis</text></g>
<g id="r-bioremediation"><circle cx="2718" cy="932" r="21" fill="url(#nCirc)"/><text class="lbl" x="2719" y="938" style="font-size:26px">bioremediation</text></g>
<g id="r-plant-growth"><circle cx="3035" cy="720" r="22" fill="url(#nPG)"/><text class="lbl" x="3035" y="729" style="font-size:26px">plant growth</text></g>
<g id="r-review"><circle cx="3063" cy="818" r="28" fill="url(#nRev)"/><text class="lbl" x="3063" y="828" style="font-size:28px">review</text></g>
<g id="r-biosorption"><circle cx="2381" cy="1260" r="20" fill="url(#nSorp)"/><text class="lbl" x="2380" y="1268">biosorption</text></g>
</g>
<g id="rightLegend">
<rect x="2633" y="1186" width="605" height="90" rx="14" fill="#ffffff" fill-opacity=".92" stroke="#c4c4c4" stroke-width="2"/>
<rect x="2651" y="1201" width="567" height="29" fill="url(#viridis)" stroke="#8a8a8a" stroke-width="1.5"/>
<path class="tick" d="M2680,1218 V1241 M2782,1218 V1241 M2883,1218 V1241 M2987,1218 V1241 M3089,1218 V1241 M3191,1218 V1241"/>
<text class="leg" x="2680" y="1264">2014</text><text class="leg" x="2782" y="1264">2016</text><text class="leg" x="2883" y="1264">2018</text><text class="leg" x="2987" y="1264">2020</text><text class="leg" x="3089" y="1264">2022</text><text class="leg" x="3191" y="1264">2024</text>
</g>
</g>
</svg>
